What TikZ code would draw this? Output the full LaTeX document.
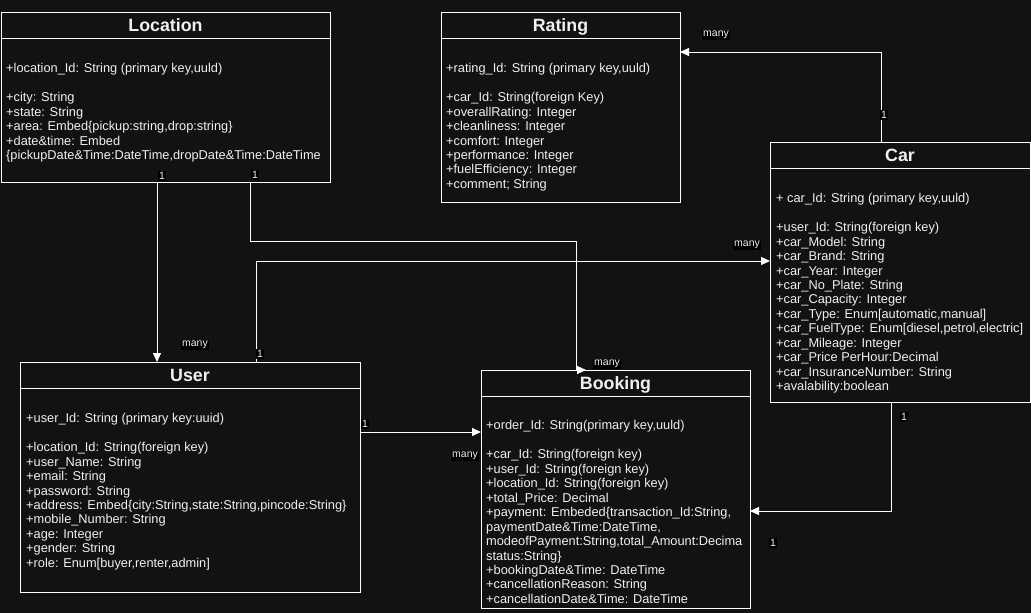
\documentclass[tikz,border=0pt]{standalone}
\usepackage{fontspec}
\setmainfont{Liberation Sans}
\usepackage{xcolor}
\usetikzlibrary{positioning,arrows.meta}
\definecolor{bgdark}{RGB}{18,18,18}
\definecolor{txtlight}{RGB}{240,240,240}

\begin{document}
\begin{tikzpicture}[x=1pt,y=-1pt,
  classhead/.style={draw=white, line width=1pt, anchor=north west, outer sep=0pt, inner sep=0pt,
    minimum height=26pt, text height=12.6pt, text depth=0pt, text=txtlight,
    font=\fontsize{17.8}{20}\selectfont\bfseries},
  classbody/.style={draw=white, line width=1pt, anchor=north west, outer sep=0pt, inner sep=0pt},
  attrs/.style={anchor=north west, inner sep=0pt, align=left, text=txtlight,
    font=\fontsize{12.8}{14.45}\selectfont},
  conn/.style={draw=white, line width=1pt, -{Triangle[length=9pt,width=8pt]}},
  mult/.style={fill=black, text=txtlight, inner sep=1pt, font=\fontsize{10.5}{12}\selectfont}]

\fill[bgdark] (0,0) rectangle (1031,613);
\useasboundingbox (0,0) rectangle (1031,613);

% Location
\node[classhead, minimum width=329pt] (locT) at (1,12) {Location};
\node[classbody, minimum width=329pt, minimum height=144pt] (loc) at (locT.south west) {};
\node[attrs] (locA) at ([xshift=5pt,yshift=-25.3pt]loc.north west) {+location\_Id: String (primary key,uuld)\\[14.45pt]
+city: String\\
+state: String\\
+area: Embed\{pickup:string,drop:string\}\\
+date\&time: Embed\\
\{pickupDate\&Time:DateTime,dropDate\&Time:DateTime};

% Rating
\node[classhead, minimum width=239pt] (ratT) at (441,12) {Rating};
\node[classbody, minimum width=239pt, minimum height=164pt] (rat) at (ratT.south west) {};
\node[attrs] (ratA) at ([xshift=5pt,yshift=-25.3pt]rat.north west) {+rating\_Id: String (primary key,uuld)\\[14.45pt]
+car\_Id: String(foreign Key)\\
+overallRating: Integer\\
+cleanliness: Integer\\
+comfort: Integer\\
+performance: Integer\\
+fuelEfficiency: Integer\\
+comment; String};

% Car
\node[classhead, minimum width=260pt] (carT) at (770,142) {Car};
\node[classbody, minimum width=260pt, minimum height=234pt] (car) at (carT.south west) {};
\node[attrs] (carA) at ([xshift=6pt,yshift=-25.3pt]car.north west) {+ car\_Id: String (primary key,uuld)\\[14.45pt]
+user\_Id: String(foreign key)\\
+car\_Model: String\\
+car\_Brand: String\\
+car\_Year: Integer\\
+car\_No\_Plate: String\\
+car\_Capacity: Integer\\
+car\_Type: Enum[automatic,manual]\\
+car\_FuelType: Enum[diesel,petrol,electric]\\
+car\_Mileage: Integer\\
+car\_Price PerHour:Decimal\\
+car\_InsuranceNumber: String\\
+avalability:boolean};

% User
\node[classhead, minimum width=340pt] (usrT) at (20,362) {User};
\node[classbody, minimum width=340pt, minimum height=204pt] (usr) at (usrT.south west) {};
\node[attrs] (usrA) at ([xshift=6pt,yshift=-25.3pt]usr.north west) {+user\_Id: String (primary key:uuid)\\[14.45pt]
+location\_Id: String(foreign key)\\
+user\_Name: String\\
+email: String\\
+password: String\\
+address: Embed\{city:String,state:String,pincode:String\}\\
+mobile\_Number: String\\
+age: Integer\\
+gender: String\\
+role: Enum[buyer,renter,admin]};

% Booking
\node[classhead, minimum width=269pt] (bokT) at (481,370) {Booking};
\node[classbody, minimum width=269pt, minimum height=212pt] (bok) at (bokT.south west) {};
\node[attrs] (bokA) at ([xshift=5pt,yshift=-24.5pt]bok.north west) {+order\_Id: String(primary key,uuld)\\[14.45pt]
+car\_Id: String(foreign key)\\
+user\_Id: String(foreign key)\\
+location\_Id: String(foreign key)\\
+total\_Price: Decimal\\
+payment: Embeded\{transaction\_Id:String,\\
paymentDate\&Time:DateTime,\\
modeofPayment:String,total\_Amount:Decima\\
status:String\}\\
+bookingDate\&Time: DateTime\\
+cancellationReason: String\\
+cancellationDate\&Time: DateTime};

% relations
\draw[conn] ([xshift=156pt]loc.south west) -- ([xshift=137pt]usrT.north west);
\draw[conn] ([xshift=249pt]loc.south west) -- ++(0,59) -| ([xshift=95pt]bokT.north west) -- ++(10,0);
\draw[conn] ([xshift=236pt]usrT.north west) |- ([yshift=-93pt]car.north west);
\draw[conn] ([yshift=-44pt]usr.north east) -- ([yshift=-36pt]bok.north west);
\draw[conn] ([xshift=121pt]car.south west) |- ([yshift=-115pt]bok.north east);
\draw[conn] ([xshift=111pt]carT.north west) |- ([yshift=-14pt]rat.north east);

% multiplicities
\node[mult] (m1) at (162,176) {1};
\node[mult] (m2) at (255,175) {1};
\node[mult] (m3) at (195,345) {many};
\node[mult] (m4) at (260,354) {1};
\node[mult] (m5) at (747,245) {many};
\node[mult] (m6) at (365,424) {1};
\node[mult] (m7) at (465,456) {many};
\node[mult] (m8) at (607,364) {many};
\node[mult] (m9) at (904,417) {1};
\node[mult] (m10) at (773,543) {1};
\node[mult] (m11) at (716,35) {many};
\node[mult] (m12) at (884,115) {1};
\end{tikzpicture}
\end{document}
